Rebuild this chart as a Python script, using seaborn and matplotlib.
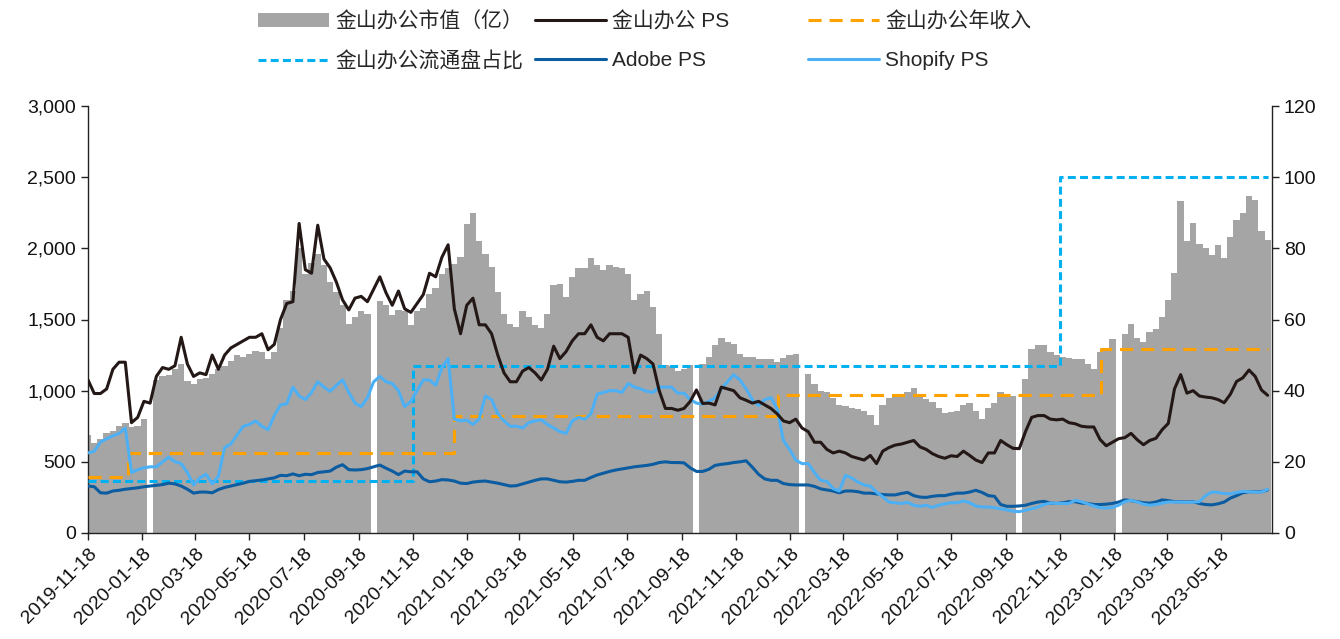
import matplotlib

matplotlib.use("Agg")

import matplotlib.pyplot as plt
import numpy as np
import pandas as pd
import seaborn as sns
from matplotlib.lines import Line2D
from matplotlib.patches import Patch
from matplotlib.ticker import FuncFormatter

nan = np.nan

# weekly samples, starting at the listing date
dates = pd.date_range("2019-11-18", periods=191, freq="7D")

# 金山办公市值（亿）, left axis; nan = long holiday gap in the bars
market_cap = [
    690, 630, 660, 700, 720, 750, 770, 745, 750, 800,
    nan, 1075, 1100, 1110, 1150, 1190, 1070, 1050, 1080, 1090,
    1120, 1150, 1170, 1210, 1250, 1240, 1260, 1280, 1270, 1220,
    1270, 1440, 1640, 1700, 2000, 1820, 1900, 1960, 1880, 1760,
    1690, 1600, 1470, 1520, 1560, 1540, nan, 1630, 1600, 1530,
    1570, 1560, 1460, 1560, 1580, 1680, 1720, 1820, 1860, 1890,
    1940, 2170, 2250, 2050, 1960, 1870, 1690, 1540, 1470, 1450,
    1560, 1520, 1460, 1440, 1540, 1740, 1750, 1660, 1800, 1860,
    1860, 1930, 1880, 1850, 1880, 1870, 1860, 1820, 1640, 1680,
    1700, 1590, 1400, 1180, 1170, 1140, 1150, 1180, nan, 1190,
    1240, 1320, 1370, 1340, 1330, 1260, 1240, 1240, 1220, 1220,
    1220, 1200, 1230, 1250, 1260, nan, 1120, 1050, 1000, 990,
    950, 900, 890, 880, 870, 860, 830, 760, 900, 950,
    955, 960, 990, 1020, 960, 940, 920, 880, 840, 850,
    860, 900, 910, 860, 800, 880, 910, 990, 980, 960,
    nan, 1080, 1290, 1320, 1320, 1270, 1250, 1240, 1230, 1220,
    1220, 1190, 1150, 1270, 1300, 1360, nan, 1400, 1470, 1370,
    1340, 1410, 1430, 1520, 1640, 1830, 2330, 2050, 2180, 2030,
    2000, 1950, 2020, 1930, 2080, 2200, 2250, 2370, 2340, 2120, 2060,
]

# 金山办公 PS, right axis
kingsoft_ps = [
    43, 39.2, 39.2, 40.5, 46, 48, 48, 31, 32.5, 37,
    36.5, 44, 46.5, 46, 47, 55, 47.5, 44, 45, 44.5,
    50, 46, 50, 52, 53, 54, 55, 55, 56, 51.5,
    53, 60, 64.5, 65, 87, 74, 73, 86.5, 77, 74.5,
    70.5, 65.5, 62.7, 66, 66.5, 65, 68.5, 72, 67.5, 64,
    68, 63, 62, 64.5, 67, 73, 72, 77.5, 81, 63,
    56, 64, 66, 58.5, 58.5, 56, 50, 45, 42.5, 42.5,
    45.5, 46.5, 45, 43, 46, 52.5, 49, 51, 54, 56,
    56, 58.5, 55, 54, 56, 56, 56, 55, 45, 50,
    49, 47.5, 40, 35, 35, 34.5, 35, 37, 40.2, 36.4,
    36.5, 36, 41, 40.5, 40, 38, 37.3, 36.5, 37, 36,
    35, 33.5, 31.5, 31, 32, 29.5, 28.5, 25.5, 25.5, 23.5,
    22.5, 23, 22.5, 21.5, 21, 20.5, 21.8, 19.5, 23, 24,
    24.7, 25, 25.5, 26, 24.2, 23.5, 22.3, 21.5, 21, 21.7,
    21.5, 23, 21.8, 20.5, 19.8, 22.5, 22.5, 26, 24.8, 23.8,
    23.7, 28.5, 32.5, 33, 33, 32, 31.8, 32, 31, 30.7,
    30, 29.8, 29.8, 26.3, 24.5, 25.5, 26.5, 26.8, 28, 26.2,
    24.8, 26, 26.6, 29, 30.8, 40.5, 44.5, 39.3, 40, 38.5,
    38.2, 38, 37.5, 36.6, 39, 42.6, 43.6, 45.8, 44, 40.2, 38.7,
]

adobe_ps = [
    13.2, 13, 11.3, 11.2, 11.8, 12, 12.3, 12.5, 12.7, 13,
    13.2, 13.4, 13.6, 14, 13.8, 13.2, 12.3, 11.2, 11.5, 11.5,
    11.3, 12.2, 12.8, 13.2, 13.6, 14, 14.5, 14.7, 14.9, 15.2,
    15.5, 16.2, 16.1, 16.6, 16.1, 16.5, 16.4, 17, 17.2, 17.4,
    18.5, 19.2, 17.8, 17.7, 17.8, 18.1, 18.6, 19.1, 18.2, 17.4,
    16.4, 17.4, 17.2, 17.2, 15.2, 14.4, 14.6, 15, 14.9, 14.6,
    14, 13.9, 14.3, 14.5, 14.6, 14.3, 14, 13.6, 13.2, 13.3,
    13.8, 14.3, 14.8, 15.2, 15.2, 14.8, 14.4, 14.3, 14.5, 14.8,
    14.8, 15.6, 16.3, 16.8, 17.3, 17.7, 18, 18.3, 18.6, 18.8,
    19, 19.3, 19.8, 20, 19.8, 19.8, 19.7, 18.3, 17.3, 17.3,
    17.9, 19, 19.3, 19.5, 19.8, 20, 20.3, 18.5, 16.5, 15.2,
    14.8, 14.8, 13.9, 13.6, 13.5, 13.5, 13.5, 13.1, 12.4, 12.1,
    11.8, 11.3, 11.8, 11.8, 11.6, 11.2, 11.2, 11, 10.8, 10.7,
    10.7, 11.1, 11.4, 10.5, 10.1, 10, 10.3, 10.5, 10.5, 10.9,
    11.2, 11.2, 11.5, 12, 11.4, 10.5, 10.3, 8, 7.5, 7.5,
    7.6, 7.8, 8.3, 8.7, 8.9, 8.4, 8.3, 8.5, 8.8, 8.8,
    8.4, 8.3, 8, 8, 8.1, 8.3, 8.7, 9.3, 9.1, 8.8,
    8.5, 8.4, 8.7, 9.3, 9.1, 8.8, 8.8, 8.7, 8.8, 8.3,
    8, 7.9, 8.2, 8.7, 9.8, 10.5, 11.3, 11.6, 11.6, 11.6, 12.1,
]

shopify_ps = [
    22.5, 23, 25.5, 26.5, 27.3, 28, 29.5, 17, 17.8, 18.3,
    18.6, 18.6, 20, 21.3, 20, 19.5, 17, 13.5, 15.5, 16.5,
    13.8, 16, 24, 25, 27.5, 30, 30.5, 31.5, 30, 29,
    33, 36, 36.3, 41, 38.5, 37.5, 39.5, 42.5, 41, 39.8,
    41.5, 43, 39.5, 36.5, 35.5, 38, 42.5, 44, 42.5, 42,
    40, 35.5, 37, 40, 43, 43, 41.5, 46.5, 49, 32,
    31.5, 31.7, 30.5, 32, 38.5, 37.5, 33.5, 31.5, 30, 30,
    29.5, 31, 31.5, 31.8, 30.5, 29.5, 28.5, 28, 31.5, 32.5,
    32, 33.5, 39, 39.5, 40, 40, 39.5, 42, 41, 40.5,
    39.8, 39.5, 41, 41, 41, 39.3, 39.3, 37.5, 36.5, 36.2,
    37, 38, 40.5, 42.5, 44.5, 43, 40.5, 37.5, 35.8, 37.5,
    38, 35, 26, 23.5, 20.5, 19.5, 19.5, 17, 14.8, 14.5,
    12.5, 11.8, 16.2, 15.5, 14.3, 13.5, 13.2, 11.5, 10.2, 8.7,
    8.5, 8.3, 8.6, 7.8, 7.5, 7.8, 7.2, 7.8, 8.2, 8.5,
    8.5, 9, 8.5, 7.6, 7.3, 7.3, 7.1, 6.8, 6.5, 6.1,
    6, 6.4, 6.8, 7.3, 8, 8.4, 8.3, 8.3, 8.3, 9.2,
    8.8, 8.2, 7.6, 7.1, 7, 7.2, 7.8, 8.8, 9.2, 8.7,
    8.1, 7.8, 8, 8.4, 8.7, 8.7, 8.7, 8.6, 8.7, 8.8,
    10.5, 11.5, 11.4, 11.1, 11, 11.4, 11.7, 11.6, 11.5, 11.5, 12.3,
]

# step series, right axis: value holds from its date to the next one
revenue_dates = pd.to_datetime(
    ["2019-11-18", "2020-01-02", "2021-01-04", "2022-01-04", "2023-01-03", "2023-07-10"]
)
revenue = [15.8, 22.6, 32.8, 38.9, 51.7, 51.7]

float_dates = pd.to_datetime(["2019-11-18", "2020-11-18", "2022-11-18", "2023-07-10"])
float_ratio = [14.5, 47.0, 100, 100]

tick_dates = [pd.Timestamp("2019-11-18") + pd.DateOffset(months=2 * i) for i in range(22)]

GRAY = "#A5A5A5"
BLACK = "#231815"
ORANGE = "#FFA200"
SKY = "#00B0F0"
ADOBE = "#0B5CA0"
SHOPIFY = "#4DB0F5"
LW = 2.2

sns.set_theme(style="ticks")
plt.rcParams["font.family"] = ["Liberation Sans", "Noto Sans CJK SC", "DejaVu Sans"]

fig = plt.figure(figsize=(13.4, 6.39), dpi=100)
ax = fig.add_axes([0.0657, 0.1659, 0.8836, 0.6682])
ax2 = ax.twinx()

ax.bar(dates, market_cap, width=7.3, color=GRAY, linewidth=0, align="center")

ax2.plot(revenue_dates, revenue, drawstyle="steps-post", color=ORANGE,
         linewidth=LW, dashes=(4.3, 2.6))
ax2.plot(float_dates, float_ratio, drawstyle="steps-post", color=SKY,
         linewidth=LW, dashes=(2.6, 1.4))
sns.lineplot(x=dates, y=adobe_ps, ax=ax2, color=ADOBE, linewidth=LW)
sns.lineplot(x=dates, y=shopify_ps, ax=ax2, color=SHOPIFY, linewidth=LW)
sns.lineplot(x=dates, y=kingsoft_ps, ax=ax2, color=BLACK, linewidth=LW)

ax.set_xlim(pd.Timestamp("2019-11-18"), pd.Timestamp("2023-07-15"))
ax.set_ylim(0, 3000)
ax2.set_ylim(0, 120)
ax.set_yticks(range(0, 3001, 500))
ax2.set_yticks(range(0, 121, 20))
ax.yaxis.set_major_formatter(FuncFormatter(lambda v, _: f"{v:,.0f}"))

ax.set_xticks(tick_dates)
ax.set_xticklabels(
    [d.strftime("%Y-%m-%d") for d in tick_dates],
    rotation=45, ha="right", rotation_mode="anchor",
)
for a in (ax, ax2):
    a.set_xlabel("")
    a.set_ylabel("")
    a.tick_params(labelsize=14, length=5, width=1, color="#222222", labelcolor="#111111")
    for side in ("left", "bottom", "right"):
        a.spines[side].set_color("#222222")
        a.spines[side].set_linewidth(1)
    a.spines["top"].set_visible(False)
ax.spines["right"].set_visible(False)
ax2.spines["left"].set_visible(False)
ax2.spines["bottom"].set_visible(False)

legend_cols = [
    (258, [Patch(facecolor=GRAY, edgecolor="none"),
           Line2D([], [], color=SKY, linewidth=LW, dashes=(2.6, 1.4))],
     ["金山办公市值（亿）", "金山办公流通盘占比"]),
    (535, [Line2D([], [], color=BLACK, linewidth=LW),
           Line2D([], [], color=ADOBE, linewidth=LW)],
     ["金山办公 PS", "Adobe PS"]),
    (808, [Line2D([], [], color=ORANGE, linewidth=LW, dashes=(4.3, 2.6)),
           Line2D([], [], color=SHOPIFY, linewidth=LW)],
     ["金山办公年收入", "Shopify PS"]),
]
for x_px, handles, labels in legend_cols:
    fig.legend(
        handles, labels,
        loc="upper left", bbox_to_anchor=(x_px / 1340, 1 - 11 / 639),
        frameon=False, fontsize=15, handlelength=3.4, handletextpad=0.3,
        labelspacing=0.95, borderpad=0, borderaxespad=0,
    )

fig.savefig("out.png", dpi=100)
